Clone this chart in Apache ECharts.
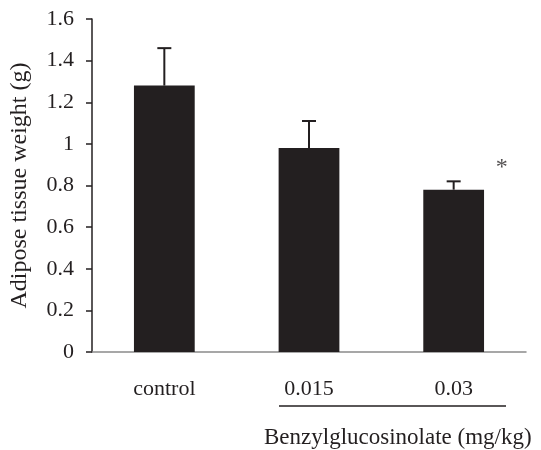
<!DOCTYPE html>
<html>
<head>
<meta charset="utf-8">
<script src="https://cdn.jsdelivr.net/npm/echarts@6/dist/echarts.min.js"></script>
<style>
  html, body { margin: 0; padding: 0; background: #fff; }
  #chart { width: 541px; height: 450px; }
</style>
</head>
<body>
<div id="chart"></div>
<script>
// data
var categories = ['control', '0.015', '0.03'];
var means = [1.28, 0.98, 0.78];
var errTop = [1.46, 1.11, 0.82];
var starPoint = [[2, 0.91]];   // significance mark beside the 0.03 group
var yTicks = { min: 0, max: 1.6, step: 0.2 };

var font = '"Liberation Serif", "Times New Roman", serif';
var chart = echarts.init(document.getElementById('chart'));

var option = {
    animation: false,
    grid: { left: 92, right: 15, top: 19, bottom: 98 },
    xAxis: {
        type: 'category',
        data: categories,
        axisLine: { lineStyle: { color: '#8a8a8a', width: 1.5 } },
        axisTick: { show: false },
        axisLabel: { color: '#231f20', fontFamily: font, fontSize: 22, margin: 26 }
    },
    yAxis: {
        type: 'value',
        min: yTicks.min,
        max: yTicks.max,
        interval: yTicks.step,
        name: 'Adipose tissue weight (g)',
        nameLocation: 'middle',
        nameGap: 60,
        nameTextStyle: { color: '#231f20', fontFamily: font, fontSize: 24 },
        axisLine: { show: true, lineStyle: { color: '#231f20', width: 1.5 } },
        axisTick: { show: true, length: 6, lineStyle: { color: '#231f20', width: 1.5 } },
        axisLabel: { color: '#231f20', fontFamily: font, fontSize: 22, margin: 18 },
        splitLine: { show: false }
    },
    series: [
        {
            type: 'bar',
            data: means,
            barWidth: '42%',
            itemStyle: { color: '#231f20' },
            z: 2
        },
        {
            type: 'custom',
            data: errTop.map(function (v, i) { return [i, means[i], v]; }),
            renderItem: function (params, api) {
                var base = api.coord([api.value(0), api.value(1)]);
                var top = api.coord([api.value(0), api.value(2)]);
                var cap = 7;
                var st = { stroke: '#231f20', lineWidth: 2 };
                return {
                    type: 'group',
                    children: [
                        { type: 'line', shape: { x1: base[0], y1: base[1], x2: top[0], y2: top[1] }, style: st },
                        { type: 'line', shape: { x1: top[0] - cap, y1: top[1], x2: top[0] + cap, y2: top[1] }, style: st }
                    ]
                };
            },
            z: 3
        },
        {
            type: 'scatter',
            data: starPoint,
            symbolSize: 0,
            label: {
                show: true,
                formatter: '*',
                position: 'inside',
                offset: [48, 5],
                color: '#231f20',
                fontFamily: font,
                fontSize: 24
            },
            z: 4
        }
    ],
    graphic: [
        {
            type: 'line',
            shape: { x1: 279, y1: 406, x2: 506, y2: 406 },
            style: { stroke: '#231f20', lineWidth: 1.5 }
        },
        {
            type: 'text',
            left: 264,
            top: 426,
            style: {
                text: 'Benzylglucosinolate (mg/kg)',
                fill: '#231f20',
                font: '23px ' + font
            }
        }
    ]
};

chart.setOption(option);
</script>
</body>
</html>
